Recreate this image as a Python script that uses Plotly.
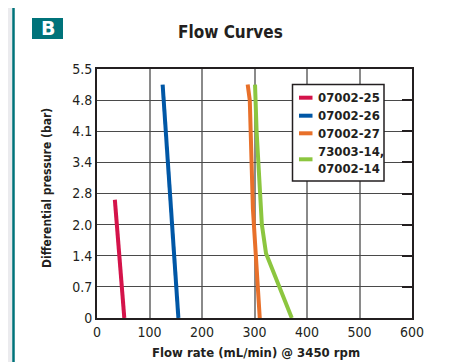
import plotly.graph_objects as go

# flow rate (mL/min) vs differential pressure, pressure stored in psi (axis labelled in bar)
series_names = ["07002-25", "07002-26", "07002-27", "73003-14,<br>07002-14"]
series_colors = ["#D4134A", "#0057A6", "#E8702A", "#8CC63F"]
flow_25 = [52, 34]
psi_25 = [0, 38]
flow_26 = [155, 125]
psi_26 = [0, 75]
flow_27 = [310, 297, 291, 287]
psi_27 = [0, 35, 70, 75]
flow_14 = [371, 322, 314, 304, 301]
psi_14 = [0, 20.7, 30, 60, 75]

y_tickvals = [0, 10, 20, 30, 40, 50, 60, 70, 80]
y_ticktext = ["0", "0.7", "1.4", "2.0", "2.8", "3.4", "4.1", "4.8", "5.5"]
x_tickvals = [0, 100, 200, 300, 400, 500, 600]

FONT = "DejaVu Sans Condensed, sans-serif"
TEAL = "#00737A"
INK = "#231F20"

# the page body adds an 8px margin, so the figure is drawn 8px in from the corner
OFF = 8
W, H = 452 - OFF, 362 - OFF
L, R, T, B = 97 - OFF, 412 - OFF, 69 - OFF, 318 - OFF


def px(x):
    # page pixel -> paper x
    return (x - OFF - L) / (R - L)


def py(y):
    # page pixel -> paper y
    return (B - (y - OFF)) / (B - T)


fig = go.Figure()
for xs, ys, name, color in zip([flow_25, flow_26, flow_27, flow_14],
                               [psi_25, psi_26, psi_27, psi_14],
                               series_names, series_colors):
    fig.add_trace(go.Scatter(x=xs, y=ys, mode="lines", name=name, showlegend=False,
                             line=dict(color=color, width=4)))

# invisible trace to carry the right-hand tick axis
fig.add_trace(go.Scatter(x=[0], y=[0], yaxis="y2", mode="markers",
                         marker=dict(opacity=0), showlegend=False, hoverinfo="skip"))

shapes = [
    dict(type="rect", xref="paper", yref="paper", x0=px(0), x1=px(12.5), y0=py(370), y1=py(0),
         fillcolor="#EBEBEE", line=dict(width=0), layer="below"),
    dict(type="rect", xref="paper", yref="paper", x0=px(448.5), x1=px(460), y0=py(370), y1=py(0),
         fillcolor="#E4ECEF", line=dict(width=0), layer="below"),
    # teal panel frame
    dict(type="line", xref="paper", yref="paper", x0=px(13.5), x1=px(13.5), y0=py(370), y1=py(0),
         line=dict(color=TEAL, width=2.5)),
    dict(type="line", xref="paper", yref="paper", x0=px(447.5), x1=px(447.5), y0=py(370), y1=py(0),
         line=dict(color=TEAL, width=2.5)),
    dict(type="rect", xref="paper", yref="paper", x0=px(32), x1=px(63), y0=py(39), y1=py(18),
         fillcolor=TEAL, line=dict(width=0)),
    # legend box
    dict(type="rect", xref="paper", yref="paper", x0=px(292.5), x1=px(384), y0=py(181), y1=py(84.5),
         fillcolor="white", line=dict(color=INK, width=1.5)),
]

annotations = [
    dict(text="<b>B</b>", xref="paper", yref="paper", x=px(47.5), y=py(28.5),
         showarrow=False, font=dict(family="DejaVu Sans", size=19, color="white"),
         xanchor="center", yanchor="middle"),
    dict(text="<b>Flow Curves</b>", xref="paper", yref="paper", x=px(230.5), y=py(32),
         showarrow=False, xanchor="center", yanchor="middle",
         font=dict(family=FONT, size=17, color=INK)),
    dict(text="<b>Flow rate (mL/min) @ 3450 rpm</b>", xref="paper", yref="paper",
         x=px(256), y=py(352), showarrow=False, xanchor="center", yanchor="middle",
         font=dict(family=FONT, size=13, color=INK)),
    dict(text="<b>Differential pressure (bar)</b>", xref="paper", yref="paper",
         x=px(47), y=py(188), showarrow=False, xanchor="center", yanchor="middle",
         textangle=-90, font=dict(family=FONT, size=12, color=INK)),
]

# legend entries: sample line y and text y (page px)
legend_rows = [(97.7, 97.7), (115.7, 115.7), (133.3, 133.3), (159.3, 160)]
for (ly, ty), name, color in zip(legend_rows, series_names, series_colors):
    shapes.append(dict(type="line", xref="paper", yref="paper", x0=px(299), x1=px(312.5),
                       y0=py(ly), y1=py(ly), line=dict(color=color, width=4)))
    annotations.append(dict(text="<b>" + name + "</b>", xref="paper", yref="paper",
                            x=px(316), y=py(ty), xanchor="left", yanchor="middle",
                            align="left", showarrow=False,
                            font=dict(family=FONT, size=13, color=INK)))

fig.update_layout(
    width=W, height=H,
    margin=dict(l=L, r=W - R, t=T, b=H - B, autoexpand=False),
    paper_bgcolor="white",
    plot_bgcolor="white",
    font=dict(family=FONT, size=13, color=INK),
    xaxis=dict(range=[0, 600], tickvals=x_tickvals, showgrid=True, gridcolor="#8A8A8A",
               gridwidth=1.5, showline=True, linecolor=INK, linewidth=2, mirror=True,
               ticks="", zeroline=False, tickfont=dict(size=14), automargin=False),
    yaxis=dict(range=[0, 80], tickvals=y_tickvals, ticktext=y_ticktext, showgrid=True,
               gridcolor="#4A4A4A", gridwidth=1.2, showline=True, linecolor=INK,
               linewidth=2, mirror=True, ticks="", zeroline=False, tickfont=dict(size=14),
               automargin=False),
    yaxis2=dict(range=[0, 80], tickvals=y_tickvals, overlaying="y", side="right",
                showgrid=False, ticks="inside", ticklen=10, tickwidth=2, tickcolor=INK,
                showticklabels=False, zeroline=False, showline=False, automargin=False),
    shapes=shapes,
    annotations=annotations,
    showlegend=False,
)

fig.write_html("out.html")
